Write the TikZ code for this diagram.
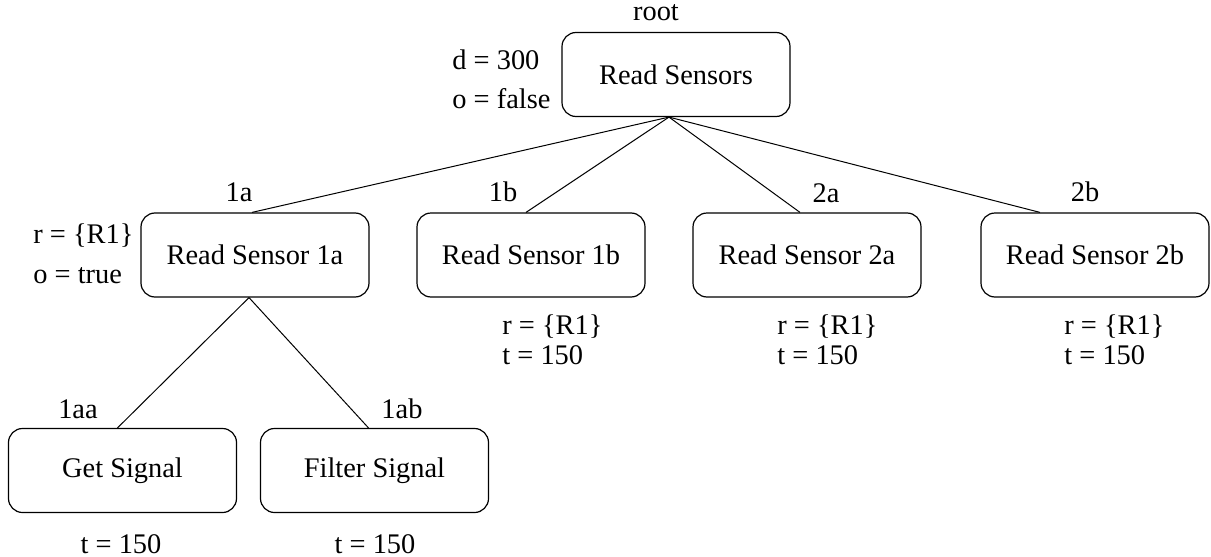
\documentclass[tikz,border=0pt]{standalone}
\usepackage{fontspec}
\setmainfont{Liberation Serif}
\usetikzlibrary{calc}
\begin{document}
\begin{tikzpicture}[x=0.5pt,y=-0.5pt,
  font=\fontsize{14.2}{17}\selectfont,
  task/.style={draw, rounded corners=7pt, line width=0.6pt, minimum width=114pt, minimum height=42pt, inner sep=0pt},
  edge/.style={line width=0.5pt},
  lbl/.style={inner sep=0pt},
  side/.style={inner sep=0pt, anchor=base west}]
\useasboundingbox (0,0) rectangle (1211,557);
% boxes
\node[task] (root) at (676,74.5) {Read Sensors\hspace{5pt}};
\node[task] (n1a) at (255,255) {Read Sensor 1a\hspace{5pt}};
\node[task] (n1b) at (531,255) {Read Sensor 1b\hspace{5pt}};
\node[task] (n2a) at (807,255) {Read Sensor 2a\hspace{5pt}};
\node[task] (n2b) at (1095,255) {Read Sensor 2b\hspace{5pt}};
\node[task] (n1aa) at (122.5,470.5) {Get Signal\hspace{3pt}};
\node[task] (n1ab) at (374.5,470.5) {Filter Signal\hspace{3pt}};
% id labels
\node[lbl] (lroot) at (656,13) {root};
\node[lbl] (l1a) at (239,192) {1a};
\node[lbl] (l1b) at (503,192) {1b};
\node[lbl] (l2a) at (826,193) {2a};
\node[lbl] (l2b) at (1085,192) {2b};
\node[lbl] (l1aa) at (78,409) {1aa};
\node[lbl] (l1ab) at (402,409) {1ab};
% side texts
\node[side] (rd) at (452,69) {d = 300};
\node[side] (ro) at (452,108) {o = false};
\node[side] (ar) at (33,243) {r = \{R1\}};
\node[side] (ao) at (33,283) {o = true};
\node[side] (br) at (502,334) {r = \{R1\}};
\node[side] (bt) at (502,364) {t = 150};
\node[side] (cr) at (777,334) {r = \{R1\}};
\node[side] (ct) at (777,364) {t = 150};
\node[side] (dr) at (1064,334) {r = \{R1\}};
\node[side] (dt) at (1064,364) {t = 150};
\node[lbl, anchor=base] (et) at (121,553) {t = 150};
\node[lbl, anchor=base] (ft) at (375,553) {t = 150};
% edges
\coordinate (rs) at ($(root.south)+(-7,0)$);
\draw[edge] (rs) -- ($(n1a.north)+(-3,0)$);
\draw[edge] (rs) -- ($(n1b.north)+(-5,0)$);
\draw[edge] (rs) -- ($(n2a.north)+(-7,0)$);
\draw[edge] (rs) -- ($(n2b.north)+(-55,0)$);
\coordinate (as) at ($(n1a.south)+(-6,0)$);
\draw[edge] (as) -- ($(n1aa.north)+(-5,0)$);
\draw[edge] (as) -- ($(n1ab.north)+(-6,0)$);
\end{tikzpicture}
\end{document}
